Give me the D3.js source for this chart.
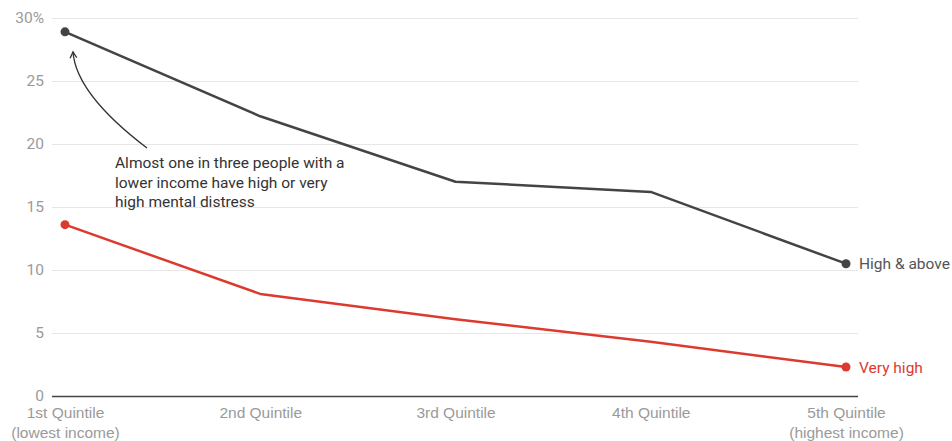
<!DOCTYPE html>
<html><head><meta charset="utf-8">
<script src="https://cdn.jsdelivr.net/npm/d3@7"></script>
<style>
body{margin:0;background:#fff;}
svg{display:block;font-family:Roboto, "Noto Sans", sans-serif;}
</style></head>
<body><svg id="c" width="952" height="441"></svg>
<script>
const categories = ["1st Quintile|(lowest income)","2nd Quintile","3rd Quintile","4th Quintile","5th Quintile|(highest income)"];
const highAbove = [28.9, 22.2, 17.0, 16.2, 10.5];
const veryHigh = [13.6, 8.1, 6.1, 4.3, 2.3];
const yTicks = [0, 5, 10, 15, 20, 25, 30];
const seriesNames = ["High & above", "Very high"];
const annotation = ["Almost one in three people with a","lower income have high or very","high mental distress"];

const FS = 15.5;
const svg = d3.select("#c");
const x = d3.scalePoint().domain(categories).range([65, 846]);
const y = d3.scaleLinear().domain([0, 30]).range([396, 18]);
const gridL = 52, gridR = 858;

// grid
const yAxis = d3.axisLeft(y).tickValues(yTicks).tickSize(-(gridR - gridL)).tickPadding(8)
  .tickFormat(d => d === 30 ? "30%" : d);
const gy = svg.append("g").attr("transform", `translate(${gridL},0)`).call(yAxis);
gy.select(".domain").remove();
gy.selectAll(".tick line").attr("stroke", "#e6e6e6").attr("stroke-width", 1);
gy.selectAll(".tick text").attr("fill", "#9a9a9a").attr("font-size", FS).attr("x", -8)
  .style("font-family", "Roboto, sans-serif");
gy.selectAll(".tick").filter(d => d === 0).select("line").attr("stroke", "#444").attr("stroke-width", 1.6);

// x axis labels
const xAxis = d3.axisBottom(x).tickSize(0).tickPadding(8).tickFormat(() => "");
const gx = svg.append("g").attr("transform", `translate(0,${y(0)})`).call(xAxis);
gx.select(".domain").remove();
gx.selectAll(".tick").each(function(d){
  const parts = d.split("|");
  const t = d3.select(this).append("text").attr("fill", "#9a9a9a").attr("font-size", FS)
    .attr("text-anchor", "middle").attr("y", 22);
  parts.forEach((p, i) => t.append("tspan").attr("x", 0).attr("dy", i === 0 ? 0 : 20).text(p));
});

// lines
const series = [
  {name: seriesNames[0], values: highAbove, color: "#444444", label: "#555"},
  {name: seriesNames[1], values: veryHigh, color: "#dd3a2f", label: "#dd3a2f"}
];
const line = d3.line().x((d, i) => x(categories[i])).y(d => y(d));
series.forEach(s => {
  svg.append("path").datum(s.values).attr("d", line).attr("fill", "none")
    .attr("stroke", s.color).attr("stroke-width", 2.5).attr("stroke-linejoin", "round");
  const ends = [0, s.values.length - 1];
  svg.selectAll(null).data(ends).enter().append("circle")
    .attr("cx", i => x(categories[i])).attr("cy", i => y(s.values[i])).attr("r", 4.5)
    .attr("fill", s.color);
  const li = s.values.length - 1;
  svg.append("text").attr("x", x(categories[li]) + 13).attr("y", y(s.values[li]) + 5.5)
    .attr("fill", s.label).attr("font-size", FS).text(s.name);
});

// annotation
const ann = svg.append("text").attr("fill", "#333").attr("font-size", FS);
annotation.forEach((t, i) => ann.append("tspan").attr("x", 115).attr("y", 168 + i * 19.5).text(t));

// arrow
const tip = [x(categories[0]) + 8, y(highAbove[0]) + 20];
const tail = [147, 148];
const ctrl = [76, 94];
svg.append("path").attr("d", `M${tail[0]},${tail[1]} Q${ctrl[0]},${ctrl[1]} ${tip[0]},${tip[1]}`)
  .attr("fill", "none").attr("stroke", "#333").attr("stroke-width", 1.3);
const ang = Math.atan2(tip[1] - ctrl[1], tip[0] - ctrl[0]);
const hl = 7;
const h1 = [tip[0] - hl * Math.cos(ang - 0.5), tip[1] - hl * Math.sin(ang - 0.5)];
const h2 = [tip[0] - hl * Math.cos(ang + 0.5), tip[1] - hl * Math.sin(ang + 0.5)];
svg.append("path").attr("d", `M${h1[0]},${h1[1]} L${tip[0]},${tip[1]} L${h2[0]},${h2[1]}`)
  .attr("fill", "none").attr("stroke", "#333").attr("stroke-width", 1.3);
</script></body></html>
